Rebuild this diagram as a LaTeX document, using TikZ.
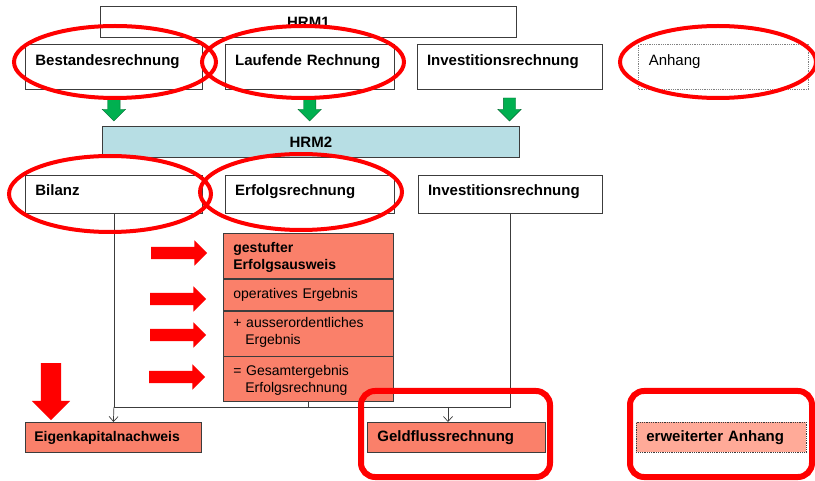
\documentclass[tikz,border=0pt]{standalone}
\usepackage{fontspec}
\setmainfont{Liberation Sans}
\usepackage{tikz}
\usetikzlibrary{shapes, arrows, arrows.meta, positioning}

\definecolor{salmon}{RGB}{250,128,106}
\definecolor{palesalmon}{RGB}{255,170,152}
\definecolor{hrmblue}{RGB}{183,222,228}
\definecolor{arrgreen}{RGB}{0,176,80}
\definecolor{boxline}{RGB}{60,60,60}

\begin{document}
\begin{tikzpicture}[x=1pt,y=-1pt,>={Straight Barb[length=5pt,width=9pt]},
    box/.style n args={3}{draw=boxline, line width=0.8pt, anchor=north west, inner xsep=10pt, inner ysep=0pt,
      text width=#1, text height=#2, text depth=#3, align=left, font=\fontsize{15}{17}\selectfont\bfseries},
    band/.style={draw=boxline, line width=0.8pt, anchor=north west, minimum height=31pt, inner sep=0pt,
      font=\fontsize{15}{17}\selectfont\bfseries},
    part/.style 2 args={box={150pt}{#1}{#2}, fill=salmon, font=\fontsize{14}{17}\selectfont},
    garrow/.style={single arrow, draw=arrgreen!60!black, fill=arrgreen, inner sep=6pt, minimum height=23pt,
      minimum width=23pt, single arrow head extend=5.5pt, shape border rotate=270},
    rarrow/.style={single arrow, fill=red, inner sep=6pt, minimum height=56pt, minimum width=25pt,
      single arrow head extend=6.5pt},
    ring/.style={draw=red, line width=4pt},
    frame/.style={draw=red, line width=6pt, rounded corners=14pt}]
  \useasboundingbox (0,0) rectangle (815,481);

  % HRM1
  \node[band, minimum width=416pt] (hrm1) at (100,6) {HRM1};
  \node[box={157pt}{21pt}{24pt}]                  (best) at (25,44) {Bestandesrechnung};
  \node[box={149pt}{21pt}{24pt}, right=22pt of best] (lauf) {Laufende Rechnung};
  \node[box={165pt}{21pt}{24pt}, right=22pt of lauf] (inv1) {Investitionsrechnung};
  \node[box={150pt}{21pt}{24pt}, draw=gray, densely dotted, font=\fontsize{15}{17}\selectfont,
        right=36pt of inv1] (anh) {Anhang};

  \node[garrow, below=8pt of best] (g1) {};
  \node[garrow, below=8pt of lauf] (g2) {};
  \node[garrow, below=8pt of inv1] (g3) {};

  % HRM2
  \node[band, fill=hrmblue, minimum width=417pt] (hrm2) at (102,126) {HRM2};
  \node[box={157pt}{20pt}{18pt}]                 (bil) at (25,175) {Bilanz};
  \node[box={149pt}{20pt}{18pt}, right=22pt of bil] (erf) {Erfolgsrechnung};
  \node[box={164pt}{20pt}{18pt}, right=23pt of erf] (inv2) {Investitionsrechnung};

  \node[part={19pt}{26pt}] (st1) at (223,233) {\bfseries gestufter\\Erfolgsausweis};
  \node[part={19pt}{12pt}, below=0pt of st1] (st2) {operatives Ergebnis};
  \node[part={17pt}{28pt}, below=0pt of st2] (st3) {+ ausserordentliches\\\hspace*{12pt}Ergebnis};
  \node[part={19pt}{26pt}, below=0pt of st3] (st4) {= Gesamtergebnis\\\hspace*{12pt}Erfolgsrechnung};

  \node[rarrow] (r1) at (176,253) {};
  \node[rarrow] (r2) at (175,299) {};
  \node[rarrow] (r3) at (175,335) {};
  \node[rarrow] (r4) at (174,377) {};
  \node[single arrow, fill=red, inner sep=10pt, minimum height=57pt, minimum width=38pt,
        single arrow head extend=9pt, shape border rotate=270] (rd) at (51,386.5) {};

  \node[box={158pt}{19pt}{11pt}, inner xsep=9pt, fill=salmon, font=\fontsize{14}{17}\selectfont\bfseries]
        (eig) at (25,422) {Eigenkapitalnachweis};
  \node[box={158pt}{19pt}{11pt}, fill=salmon] (geld) at (367,422) {Geldflussrechnung};
  \node[box={150pt}{19pt}{11pt}, fill=palesalmon, densely dotted] (erw) at (636,422) {erweiterter Anhang};

  % connectors
  \coordinate (jn) at (0,407);
  \coordinate (gin) at (448,407);
  \draw[boxline, line width=0.7pt] (bil.south) -- (bil.south |- jn) -| (inv2.south);
  \draw[boxline, line width=0.7pt] (st4.south) -- (st4.south |- jn);
  \draw[->, boxline, line width=0.7pt] (bil.south |- jn) -- (eig.north);
  \draw[->, boxline, line width=0.7pt] (gin) -- (gin |- geld.north);

  % markings
  \draw[ring] (115,62) ellipse [x radius=101pt, y radius=36pt];
  \draw[ring] (303,62) ellipse [x radius=101pt, y radius=36pt];
  \draw[ring] (718,62) ellipse [x radius=98pt, y radius=36pt];
  \draw[ring] (110,194) ellipse [x radius=101pt, y radius=38pt];
  \draw[ring] (301,192) ellipse [x radius=101pt, y radius=38pt];
  \draw[frame] (361,391) rectangle (550,477);
  \draw[frame] (630,391) rectangle (812,477);
\end{tikzpicture}
\end{document}
